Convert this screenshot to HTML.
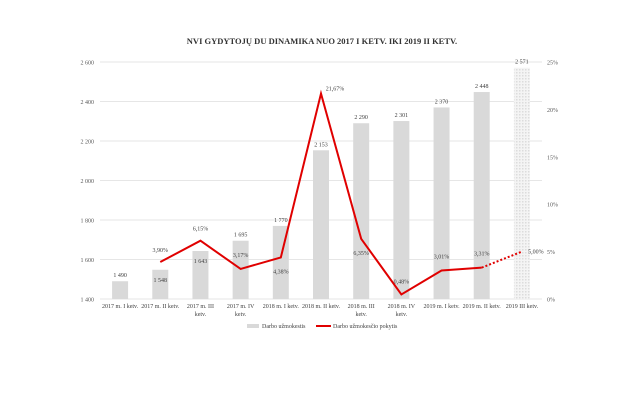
<!DOCTYPE html>
<html><head><meta charset="utf-8"><style>
body{margin:0;background:#fff}
svg{font-family:"Liberation Serif",serif;display:block}
</style></head><body>
<svg id="c" width="644" height="414">
<defs><pattern id="dots" width="3" height="3" patternUnits="userSpaceOnUse"><rect width="3" height="3" fill="#f4f4f4"/><rect width="1.5" height="1.5" fill="#dcdcdc"/></pattern></defs>
<text x="322" y="44" text-anchor="middle" font-size="8.5" font-weight="bold" fill="#333">NVI GYDYTOJŲ  DU DINAMIKA NUO 2017 I KETV. IKI 2019 II KETV.</text>
<g id="g"></g>
</svg>
<script>
const categories=["2017 m. I ketv.","2017 m. II ketv.","2017 m. III|ketv.","2017 m. IV|ketv.","2018 m. I ketv.","2018 m. II ketv.","2018 m. III|ketv.","2018 m. IV|ketv.","2019 m. I ketv.","2019 m. II ketv.","2019 III ketv."];
const barValues=[1490,1548,1643,1695,1770,2153,2290,2301,2370,2448,2571];
const barLabels=["1 490","1 548","1 643","1 695","1 770","2 153","2 290","2 301","2 370","2 448","2 571"];
const growthValues=[null,3.90,6.15,3.17,4.38,21.67,6.35,0.48,3.01,3.31,5.00];
const growthLabels=["","3,90%","6,15%","3,17%","4,38%","21,67%","6,35%","0,48%","3,01%","3,31%","5,00%"];
const leftTicks=[1400,1600,1800,2000,2200,2400,2600];
const leftTickLabels=["1 400","1 600","1 800","2 000","2 200","2 400","2 600"];
const rightTicks=[0,5,10,15,20,25];
const rightTickLabels=["0%","5%","10%","15%","20%","25%"];
const NS="http://www.w3.org/2000/svg",g=document.getElementById('g');
const X0=100,X1=542,YT=62,YB=299;
const step=(X1-X0)/categories.length;
const x=i=>X0+step*(i+0.5);
const yL=v=>YB-(v-1400)/(2600-1400)*(YB-YT);
const yR=v=>YB-v/25*(YB-YT);
function mk(t,a,txt){const e=document.createElementNS(NS,t);for(const k in a)e.setAttribute(k,a[k]);if(txt!=null)e.textContent=txt;g.appendChild(e);return e;}
leftTicks.forEach((v,i)=>{
 const l=mk('line',{x1:X0,x2:X1,y1:yL(v),y2:yL(v),stroke:'#e6e6e6','stroke-width':1});
 
 const t=mk('text',{x:X0-6,y:yL(v)+2.5,'text-anchor':'end','font-size':6,fill:'#595959'},leftTickLabels[i]);
 
});
rightTicks.forEach((v,i)=>{
 const t=mk('text',{x:X1+5,y:yR(v)+2.5,'font-size':6,fill:'#595959'},rightTickLabels[i]);
 
});
const bw=16;
barValues.forEach((v,i)=>{
 const last=i===barValues.length-1;
 const r=mk('rect',{x:x(i)-bw/2,y:yL(v),width:bw,height:YB-yL(v),fill:last?'url(#dots)':'#d9d9d9'});
 
 const inside=(i===1||i===2);
 const t=mk('text',{x:x(i),y:inside?yL(v)+12:yL(v)-4,'text-anchor':'middle','font-size':6,fill:'#404040'},barLabels[i]);
 
 const parts=categories[i].split('|');
 parts.forEach((p,j)=>{const c=mk('text',{x:x(i),y:YB+9+j*8,'text-anchor':'middle','font-size':6,fill:'#404040'},p);
 });
});
let pts=[];for(let i=1;i<growthValues.length-1;i++)pts.push(x(i)+','+yR(growthValues[i]));
const pl=mk('polyline',{points:pts.join(' '),fill:'none',stroke:'#e00000','stroke-width':2,'stroke-linejoin':'miter'});

const n=growthValues.length-1;
const dl=mk('line',{x1:x(n-1),y1:yR(growthValues[n-1]),x2:x(n),y2:yR(growthValues[n]),stroke:'#e00000','stroke-width':2,'stroke-dasharray':'2,2'});

const off={1:[0,-10],2:[0,-10],3:[0,-12],4:[0,16],5:[14,-3],6:[0,16],7:[0,-11],8:[0,-12],9:[0,-12],10:[14,2]};
growthValues.forEach((v,i)=>{if(v==null)return;const o=off[i];
 const t=mk('text',{x:x(i)+o[0],y:yR(v)+o[1],'text-anchor':'middle','font-size':6,fill:'#404040'},growthLabels[i]);
 });
const lr=mk('rect',{x:247,y:324,width:12,height:4,fill:'#d9d9d9'});
const lt=mk('text',{x:262,y:328,'font-size':6,fill:'#404040'},'Darbo užmokestis');
const ll=mk('line',{x1:316,x2:331,y1:326,y2:326,stroke:'#e00000','stroke-width':2});
const lt2=mk('text',{x:333,y:328,'font-size':6,fill:'#404040'},'Darbo užmokesčio pokytis');
</script>
</body></html>
